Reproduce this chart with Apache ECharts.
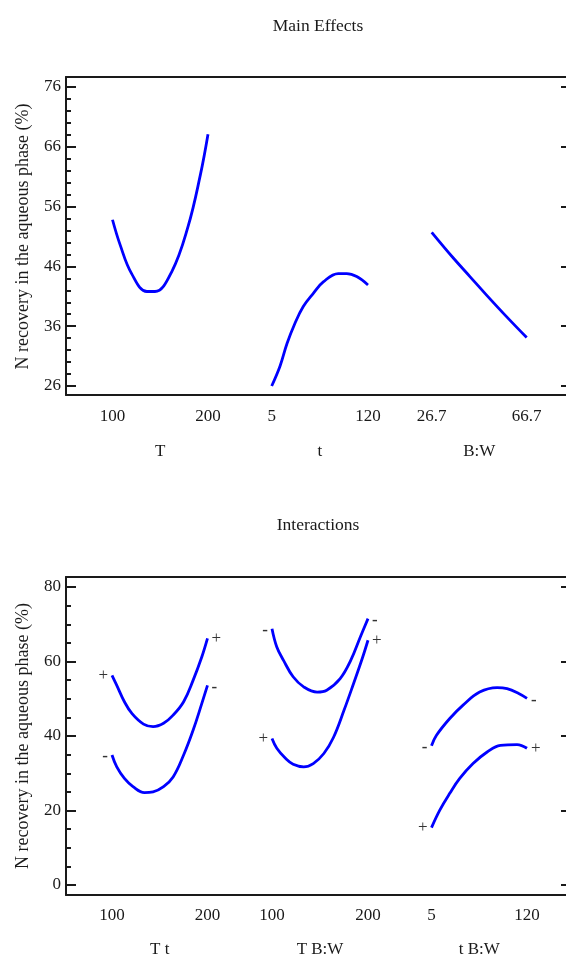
<!DOCTYPE html>
<html><head><meta charset="utf-8">
<script src="https://cdn.jsdelivr.net/npm/echarts@6/dist/echarts.min.js"></script>
<style>html,body{margin:0;padding:0;background:#fff}#c{width:566px;height:956px}</style>
</head><body><div id="c"></div>
<script>
// ---------- data ----------
const mainTitle = 'Main Effects';
const interTitle = 'Interactions';
const yName = 'N recovery in the aqueous phase (%)';

// Main effects
const T_vals  = [100,108,120,136,144.5,162,179,192,200];
const T_resp  = [53.8,49.6,44.8,41.8,41.8,45.1,52.6,61.3,68.1];
const t_vals  = [5,14.9,23.3,32.8,42.7,54.7,66.6,84.5,94.6,106.5,120];
const t_resp  = [26.0,29.3,33.1,36.5,39.3,41.5,43.4,44.8,44.8,44.3,42.9];
const BW_vals = [26.7,35.8,42.8,49.8,58.2,66.7];
const BW_resp = [51.7,47.4,44.3,41.2,37.6,34.1];
const mainFactors = ['T','t','B:W'];
const mainRanges = [[100,200],[5,120],[26.7,66.7]];
const yTopTicks = [26,76,10];   // min, max, step

// Interactions
const Tt_plus_x   = [100,105,113,121,133,143,154,164,175,185,194,200];
const Tt_plus_y   = [56.3,53.6,49.2,46.0,43.2,42.5,43.4,45.6,49.2,55.0,61.2,66.2];
const Tt_minus_x  = [100,105,113,122,134,143,154,164,175,185,194,200];
const Tt_minus_y  = [34.9,31.7,28.6,26.4,24.8,25.0,26.4,29.0,34.9,41.6,48.7,53.6];
const TBW_minus_x = [100,105,112,122,133,147,157,171,182,192,200];
const TBW_minus_y = [68.8,63.9,60.3,55.9,53.2,51.8,52.3,55.4,60.3,66.6,71.5];
const TBW_plus_x  = [100,105,114,122,133,143,154,164,175,185,194,200];
const TBW_plus_y  = [39.3,36.7,34.0,32.4,31.7,32.6,35.3,39.6,46.9,54.1,60.8,65.7];
const tBW_minus_x = [5,11,27,43,63,84,96,110,120];
const tBW_minus_y = [37.4,40.2,44.7,48.3,51.8,53.0,52.7,51.4,50.1];
const tBW_plus_x  = [5,15,27,39,55,72,88,108,120];
const tBW_plus_y  = [15.4,20.1,24.6,28.6,32.6,35.7,37.5,37.7,36.7];
const interFactors = ['T t','T B:W','t B:W'];
const interRanges = [[100,200],[100,200],[5,120]];
const yBotTicks = [0,80,20];

// ---------- styling / layout ----------
const FONT = '"Liberation Serif","Times New Roman",Times,serif';
const INK = '#1a1a1a';
const BLUE = '#0000ff';
const FS = 17;

const grids = [], xAxes = [], yAxes = [], series = [];
function grid(o){ grids.push(Object.assign({outerBoundsMode:'none', containLabel:false}, o)); return grids.length-1; }

function addFrame(top, height){
  const gi = grid({left:66, top:top, width:503, height:height});
  const line = {show:true, lineStyle:{color:INK, width:2}};
  const bare = {axisTick:{show:false}, axisLabel:{show:false}, splitLine:{show:false}};
  xAxes.push(Object.assign({type:'value', gridIndex:gi, position:'bottom', min:0, max:1, axisLine:line}, bare));
  xAxes.push(Object.assign({type:'value', gridIndex:gi, position:'top', min:0, max:1, axisLine:line}, bare));
  yAxes.push(Object.assign({type:'value', gridIndex:gi, position:'left', min:0, max:1, axisLine:line}, bare));
}
function addYGrid(top, height, ticks, minorSplit){
  const gi = grid({left:66, top:top, width:503, height:height});
  xAxes.push({type:'value', gridIndex:gi, show:false});
  yAxes.push({type:'value', gridIndex:gi, position:'left', min:ticks[0], max:ticks[1], interval:ticks[2],
    axisLine:{show:false},
    axisTick:{show:true, inside:true, length:10, lineStyle:{color:INK, width:2}},
    minorTick:{show:true, splitNumber:minorSplit, length:5, lineStyle:{color:INK, width:2}},
    splitLine:{show:false},
    axisLabel:{margin:5, fontSize:FS, color:INK, fontFamily:FONT},
    name:yName, nameLocation:'middle', nameRotate:90, nameGap:34,
    nameTextStyle:{fontSize:18, color:INK, fontFamily:FONT}});
  yAxes.push({type:'value', gridIndex:gi, position:'right', min:ticks[0], max:ticks[1], interval:ticks[2],
    axisLine:{show:false},
    axisTick:{show:true, inside:true, length:8, lineStyle:{color:INK, width:2}},
    splitLine:{show:false}, axisLabel:{show:false}});
}
function addSub(left, width, top, height, range, ticks, name, offset, lblMargin, nameGap){
  const gi = grid({left:left, top:top, width:width, height:height});
  xAxes.push({type:'value', gridIndex:gi, min:range[0], max:range[1], interval:+(range[1]-range[0]).toFixed(3),
    position:'bottom', offset:offset,
    axisLine:{show:false}, axisTick:{show:false}, splitLine:{show:false},
    axisLabel:{show:true, showMinLabel:true, showMaxLabel:true, margin:lblMargin, fontSize:FS, color:INK, fontFamily:FONT,
      formatter:v=>String(+v.toFixed(1))},
    name:name, nameLocation:'middle', nameGap:nameGap,
    nameTextStyle:{fontSize:FS, color:INK, fontFamily:FONT}});
  yAxes.push({type:'value', gridIndex:gi, show:false, min:ticks[0], max:ticks[1]});
  return {x:xAxes.length-1, y:yAxes.length-1};
}
function curve(ax, xs, ys, marks){
  const data = xs.map((x,i)=>{
    const it = {value:[x, ys[i]]};
    if (marks && (i===0 || i===xs.length-1)) {
      const m = i===0 ? marks[0] : marks[1];
      it.label = {show:true, position: i===0 ? 'left':'right', distance:4, formatter:m,
        fontSize:FS, color:'#333', fontFamily:FONT,
        fontWeight: m==='-' ? 'bold' : 'normal', offset: m==='-' ? [0,2] : [0,0]};
    }
    return it;
  });
  series.push({type:'line', xAxisIndex:ax.x, yAxisIndex:ax.y, data:data, smooth:0.4,
    symbol:'circle', symbolSize:0.01, showSymbol:true, clip:false, silent:true,
    lineStyle:{color:BLUE, width:2.8}, itemStyle:{color:BLUE}});
}

// ---- top chart ----
addFrame(77, 318);
addYGrid(87, 299, yTopTicks, 5);
const subLeft = [112.5, 271.7, 431.7];
const subW = [95.5, 96.3, 95];
const mAx = mainFactors.map((f,i)=>addSub(subLeft[i], subW[i], 87, 299, mainRanges[i], yTopTicks, f, 9, 13, 48));
curve(mAx[0], T_vals, T_resp);
curve(mAx[1], t_vals, t_resp);
curve(mAx[2], BW_vals, BW_resp);

// ---- bottom chart ----
addFrame(577, 318);
addYGrid(587, 298, yBotTicks, 4);
const subLeftB = [112, 272, 431.5];
const subWB = [95.5, 96, 95.5];
const iAx = interFactors.map((f,i)=>addSub(subLeftB[i], subWB[i], 587, 298, interRanges[i], yBotTicks, f, 10, 12, 46));
curve(iAx[0], Tt_plus_x, Tt_plus_y, ['+','+']);
curve(iAx[0], Tt_minus_x, Tt_minus_y, ['-','-']);
curve(iAx[1], TBW_minus_x, TBW_minus_y, ['-','-']);
curve(iAx[1], TBW_plus_x, TBW_plus_y, ['+','+']);
curve(iAx[2], tBW_minus_x, tBW_minus_y, ['-','-']);
curve(iAx[2], tBW_plus_x, tBW_plus_y, ['+','+']);

const chart = echarts.init(document.getElementById('c'), null, {renderer:'canvas'});
chart.setOption({
  animation:false,
  backgroundColor:'#fff',
  title:[
    {text:mainTitle, left:313, top:12, textAlign:'center', textStyle:{fontSize:17.5, fontWeight:'normal', color:INK, fontFamily:FONT}},
    {text:interTitle, left:313, top:511, textAlign:'center', textStyle:{fontSize:17.5, fontWeight:'normal', color:INK, fontFamily:FONT}}
  ],
  grid:grids, xAxis:xAxes, yAxis:yAxes, series:series
});
</script></body></html>
